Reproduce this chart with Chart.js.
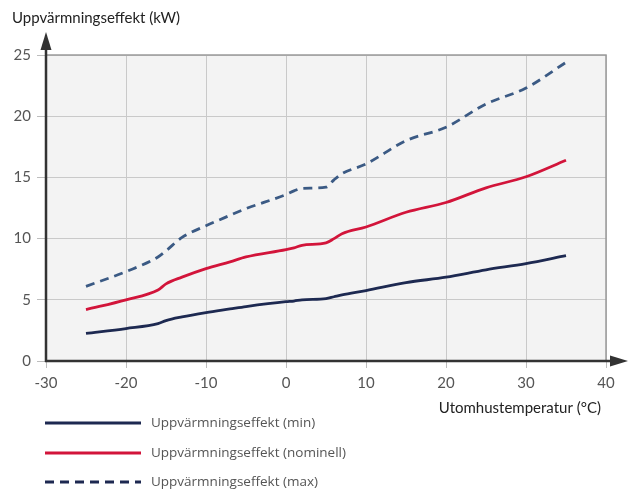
<!DOCTYPE html>
<html>
<head>
<meta charset="utf-8">
<script src="https://cdn.jsdelivr.net/npm/chart.js@4"></script>
<style>
  html, body { margin: 0; padding: 0; background: #fff; }
  #wrap { width: 629px; height: 490px; }
</style>
</head>
<body>
<div id="wrap"><canvas id="chart"></canvas></div>
<script>
// outdoor temperature (°C)
const temps = [-25, -20, -16, -15, -13, -10, -7, -5, 0, 1, 2, 5, 6, 7, 10, 15, 20, 25, 30, 35];
// heating power (kW)
const powerMin = [2.25, 2.65, 3.05, 3.3, 3.6, 3.95, 4.25, 4.45, 4.85, 4.9, 5.0, 5.1, 5.25, 5.4, 5.75, 6.4, 6.85, 7.45, 7.95, 8.6];
const powerNom = [4.2, 5.0, 5.8, 6.3, 6.85, 7.55, 8.1, 8.5, 9.1, 9.25, 9.45, 9.65, 10.0, 10.4, 10.95, 12.15, 12.95, 14.15, 15.05, 16.4];
const powerMax = [6.1, 7.3, 8.5, 9.0, 10.1, 11.05, 11.9, 12.45, 13.6, 13.9, 14.1, 14.2, 14.8, 15.3, 16.1, 18.0, 19.1, 21.0, 22.3, 24.4];

const seriesNames = ['Uppvärmningseffekt (min)', 'Uppvärmningseffekt (nominell)', 'Uppvärmningseffekt (max)'];
const xTicks = [-30, -20, -10, 0, 10, 20, 30, 40];
const yTicks = [0, 5, 10, 15, 20, 25];
const yTitle = 'Uppvärmningseffekt (kW)';
const xTitle = 'Utomhustemperatur (°C)';

const FONT = 'Lato, "Open Sans", sans-serif';

function pts(vals) {
  return temps.map((t, i) => ({ x: t, y: vals[i] }));
}

// grey plot background
const bgPlugin = {
  id: 'bg',
  beforeDraw(chart) {
    const { ctx, chartArea: a } = chart;
    ctx.save();
    ctx.fillStyle = '#f3f3f3';
    ctx.fillRect(a.left, a.top, a.right - a.left, a.bottom - a.top);
    ctx.restore();
  }
};

// axes with arrows, titles, legend
const decoPlugin = {
  id: 'deco',
  afterDatasetsDraw(chart) {
    const { ctx, chartArea: a } = chart;
    ctx.save();
    // top and right frame
    ctx.strokeStyle = '#9a9a9a';
    ctx.lineWidth = 1.5;
    ctx.beginPath();
    ctx.moveTo(a.left, a.top);
    ctx.lineTo(a.right, a.top);
    ctx.lineTo(a.right, a.bottom);
    ctx.stroke();

    // dark axes
    ctx.strokeStyle = '#333';
    ctx.fillStyle = '#333';
    ctx.lineWidth = 2.5;
    ctx.beginPath();
    ctx.moveTo(a.left, a.bottom + 1);
    ctx.lineTo(a.left, 46);
    ctx.moveTo(a.left - 1, a.bottom);
    ctx.lineTo(616, a.bottom);
    ctx.stroke();
    // arrow heads
    ctx.beginPath();
    ctx.moveTo(a.left, 32);
    ctx.lineTo(a.left - 5.5, 50);
    ctx.lineTo(a.left + 5.5, 50);
    ctx.closePath();
    ctx.fill();
    ctx.beginPath();
    ctx.moveTo(628, a.bottom);
    ctx.lineTo(610, a.bottom - 5.5);
    ctx.lineTo(610, a.bottom + 5.5);
    ctx.closePath();
    ctx.fill();

    // titles
    ctx.fillStyle = '#222';
    ctx.font = '15px ' + FONT;
    ctx.textBaseline = 'middle';
    ctx.textAlign = 'left';
    ctx.fillText(yTitle, 12, 18);
    ctx.textAlign = 'right';
    ctx.fillText(xTitle, 601, 408);

    // legend
    const rows = [423, 453, 482];
    ctx.textAlign = 'left';
    ctx.font = '13.5px "Open Sans", sans-serif';
    chart.data.datasets.forEach((ds, i) => {
      const y = rows[i];
      ctx.strokeStyle = ds.legendColor || ds.borderColor;
      ctx.lineWidth = 3;
      ctx.setLineDash(ds.borderDash || []);
      ctx.beginPath();
      ctx.moveTo(45, y);
      ctx.lineTo(141, y);
      ctx.stroke();
      ctx.setLineDash([]);
      ctx.fillStyle = '#555';
      ctx.fillText(ds.label, 151, y);
    });
    ctx.restore();
  }
};

new Chart(document.getElementById('chart'), {
  type: 'line',
  data: {
    datasets: [
      { label: seriesNames[0], data: pts(powerMin), borderColor: '#1d2951', borderWidth: 2.8 },
      { label: seriesNames[1], data: pts(powerNom), borderColor: '#d2143a', borderWidth: 2.8 },
      { label: seriesNames[2], data: pts(powerMax), borderColor: '#3b5a84', legendColor: '#1d2951', borderWidth: 2.8, borderDash: [9, 6] }
    ]
  },
  options: {
    responsive: true,
    maintainAspectRatio: false,
    animation: false,
    events: [],
    layout: { padding: { left: 0, top: 55, right: 23, bottom: 89 } },
    elements: {
      point: { radius: 0 },
      line: { cubicInterpolationMode: 'monotone', fill: false, borderCapStyle: 'butt' }
    },
    plugins: { legend: { display: false }, tooltip: { enabled: false } },
    scales: {
      x: {
        type: 'linear',
        min: -30, max: 40,
        afterBuildTicks: s => { s.ticks = xTicks.map(v => ({ value: v })); },
        afterFit: s => { s.height = 40; },
        border: { display: false },
        grid: { color: '#c9c9c9', lineWidth: 1, tickLength: 7, tickColor: '#bdbdbd' },
        ticks: { color: '#555', font: { family: FONT, size: 15 }, padding: 6, maxRotation: 0, callback: v => String(v) }
      },
      y: {
        min: 0, max: 25,
        afterBuildTicks: s => { s.ticks = yTicks.map(v => ({ value: v })); },
        afterFit: s => { s.width = 46; },
        border: { display: false },
        grid: { color: '#c9c9c9', lineWidth: 1, tickLength: 9, tickColor: '#bdbdbd' },
        ticks: { color: '#555', font: { family: FONT, size: 15 }, padding: 6, callback: v => String(v) }
      }
    }
  },
  plugins: [bgPlugin, decoPlugin]
});
</script>
</body>
</html>
